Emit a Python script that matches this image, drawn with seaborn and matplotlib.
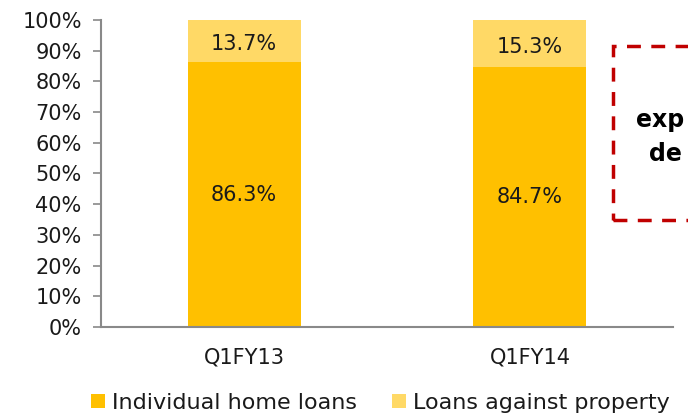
import matplotlib
matplotlib.use("Agg")
import matplotlib.pyplot as plt
import seaborn as sns
import pandas as pd
from matplotlib.patches import Rectangle, Patch

categories = ["Q1FY13", "Q1FY14"]
individual_home_loans = [86.3, 84.7]
loans_against_property = [13.7, 15.3]
series_names = ["Individual home loans", "Loans against property"]
ytick_values = list(range(0, 101, 10))

dark = "#FFC000"
light = "#FFD966"
grey = "#898989"

sns.set_theme(style="white")
plt.rcParams["font.family"] = ["DejaVu Sans"]

df = pd.DataFrame({
    "cat": categories,
    "ind": individual_home_loans,
    "lap": loans_against_property,
})
df["total"] = df["ind"] + df["lap"]

fig = plt.figure(figsize=(6.88, 4.16), dpi=100)
ax = fig.add_axes([0.147, 0.214, 0.831, 0.738])

sns.barplot(data=df, x="cat", y="total", color=light, width=0.395,
            saturation=1, ax=ax, linewidth=0)
sns.barplot(data=df, x="cat", y="ind", color=dark, width=0.395,
            saturation=1, ax=ax, linewidth=0)

fs = 15
tc = "#1a1a1a"
for i, row in df.iterrows():
    ax.text(i, row["ind"] / 2, f"{row['ind']:.1f}%", ha="center", va="center",
            fontsize=fs, color=tc)
    ax.text(i, row["ind"] + row["lap"] / 2 - 1, f"{row['lap']:.1f}%", ha="center",
            va="center", fontsize=fs, color=tc)

ax.set_xlim(-0.5, 1.5)
ax.set_ylim(0, 100)
ax.set_yticks(ytick_values)
ax.set_yticklabels([f"{v}%" for v in ytick_values], fontsize=fs, color=tc)
ax.set_xticks([0, 1])
ax.set_xticklabels(categories, fontsize=fs, color=tc)
ax.set_xticks([-0.5, 0.5, 1.5], minor=True)
ax.tick_params(axis="x", which="major", length=0, pad=15)
ax.tick_params(axis="x", which="minor", length=6, width=1.2, color=grey, direction="out")
ax.tick_params(axis="y", length=6, width=1.2, color=grey, direction="out", left=True, pad=8)
ax.set_xlabel("")
ax.set_ylabel("")
for s in ["top", "right"]:
    ax.spines[s].set_visible(False)
for s in ["left", "bottom"]:
    ax.spines[s].set_color(grey)
    ax.spines[s].set_linewidth(1.5)

# Legend
handles = [Patch(facecolor=dark, edgecolor="none"), Patch(facecolor=light, edgecolor="none")]
fig.legend(handles, series_names, loc="center", bbox_to_anchor=(0.553, 0.031),
           ncol=2, frameon=False, fontsize=16, handlelength=0.62, handleheight=0.62,
           handletextpad=0.3, columnspacing=1.6, borderaxespad=0, labelcolor=tc)

# Red dashed callout box (partially cut off at figure edge)
box = Rectangle((613 / 688, 1 - 220 / 416), 0.2, (220 - 46) / 416,
                transform=fig.transFigure, fill=False, edgecolor="#C00000",
                linewidth=2.5, linestyle=(0, (4, 3)), clip_on=False)
fig.add_artist(box)
fig.text(636 / 688, 1 - 127 / 416, "exp", fontsize=17, fontweight="bold",
         color="black", ha="left", va="baseline")
fig.text(649 / 688, 1 - 161 / 416, "de", fontsize=17, fontweight="bold",
         color="black", ha="left", va="baseline")

fig.savefig("out.png", dpi=100)
